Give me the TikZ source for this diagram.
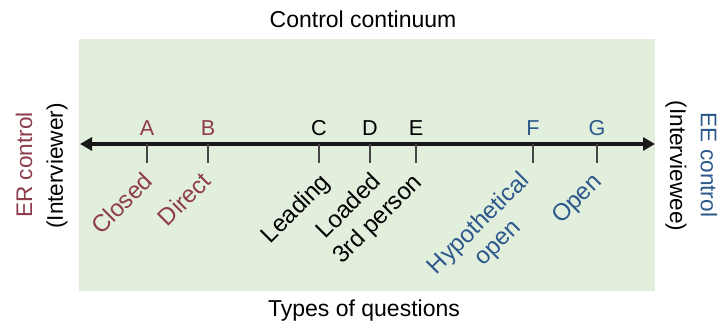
\documentclass[tikz,border=0pt]{standalone}
\usepackage{fontspec}
\setmainfont{Liberation Sans}
\usetikzlibrary{arrows.meta,positioning}

\definecolor{ercolor}{RGB}{142,60,76}
\definecolor{eecolor}{RGB}{44,88,140}
\definecolor{panelgreen}{RGB}{226,239,221}
\definecolor{tickgray}{RGB}{70,70,70}

\begin{document}
\begin{tikzpicture}[
    x=0.5pt, y=0.5pt,
    every node/.style = {font=\fontsize{12}{13.5}\selectfont},
    heading/.style = {font=\fontsize{11.5}{13.5}\selectfont},
    letter/.style = {anchor=base, inner sep=0pt, font=\fontsize{10.8}{13}\selectfont},
    qtype/.style = {anchor=north east, inner sep=0pt, rotate=45, align=center},
    side/.style = {font=\fontsize{11.3}{13}\selectfont, inner sep=0pt},
    axis/.style = {
        {Triangle[length=6pt,width=6.5pt]}-{Triangle[length=6pt,width=6.5pt]},
        line width=2pt,
        black!90
    },
    tick/.style = {line width=0.7pt, tickgray}
]

\useasboundingbox (0,0) rectangle (722,331);
\fill[panelgreen] (79,40) rectangle (655,292);

% titles
\node[heading] (title) at (363,312) {Control continuum};
\node[heading] (caption) at (364,20) {Types of questions};

% ends of the continuum
\node[side, rotate=90, ercolor] (erctl) at (24,166) {ER control};
\node[side, rotate=90] (erwho) at (57,165) {(Interviewer)};
\node[side, rotate=-90] (eewho) at (676,165) {(Interviewee)};
\node[side, rotate=-90, eecolor] (eectl) at (709,166) {EE control};

% axis
\coordinate (left) at (80,187);
\coordinate (right) at (655,187);
\draw[axis] (left) -- (right);

% tick positions
\coordinate (tA) at (147,187);
\coordinate (tB) at (208,187);
\coordinate (tC) at (319,187);
\coordinate (tD) at (370,187);
\coordinate (tE) at (416,187);
\coordinate (tF) at (533,187);
\coordinate (tG) at (597,187);

\coordinate (bA) at (147,168);
\coordinate (bB) at (208,168);
\coordinate (bC) at (319,168);
\coordinate (bD) at (370,168);
\coordinate (bE) at (416,168);
\coordinate (bF) at (533,168);
\coordinate (bG) at (597,168);

\draw[tick] (tA) -- (bA);
\draw[tick] (tB) -- (bB);
\draw[tick] (tC) -- (bC);
\draw[tick] (tD) -- (bD);
\draw[tick] (tE) -- (bE);
\draw[tick] (tF) -- (bF);
\draw[tick] (tG) -- (bG);

% letters
\node[letter, ercolor] (lA) at (147,195) {A};
\node[letter, ercolor] (lB) at (208,195) {B};
\node[letter] (lC) at (319,195) {C};
\node[letter] (lD) at (370,195) {D};
\node[letter] (lE) at (416,195) {E};
\node[letter, eecolor] (lF) at (533,195) {F};
\node[letter, eecolor] (lG) at (597,195) {G};

% question types
\node[qtype, ercolor] (closed) at (142,161) {Closed};
\node[qtype, ercolor] (direct) at (200,161) {Direct};
\node[qtype] (leading) at (319,160) {Leading};
\node[qtype] (loaded) at (370,161) {Loaded};
\node[qtype] (third) at (411,160) {3rd person};
\node[qtype, eecolor] (hypo) at (518,162) {Hypothetical\\open};
\node[qtype, eecolor] (open) at (591,160) {Open};

\end{tikzpicture}
\end{document}
